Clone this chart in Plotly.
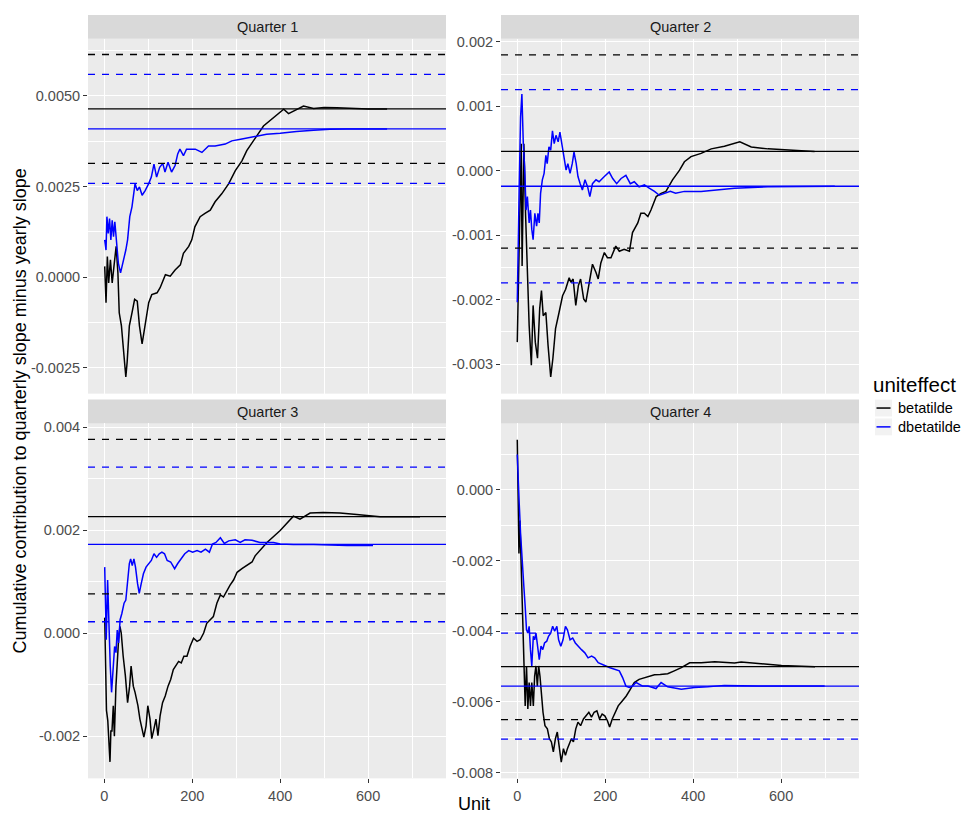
import plotly.graph_objects as go

W, H = 970, 822

# ---------------- data: cumulative unit effects per quarter ----------------
q1_beta_x = [1, 4, 7, 10, 14, 18, 22, 27, 31, 34, 39, 44, 49, 52, 57, 63, 69, 75, 80, 86, 93, 101, 108, 120,
             127, 139, 150, 161, 173, 180, 192, 199, 206, 218, 229, 241, 252, 267, 283, 298, 313, 324, 362,
             389, 408, 419, 430, 453, 476, 500, 529, 567, 600, 643]
q1_beta_y = [0.00030, -0.00070, 0.00057, -0.00016, 0.00048, -0.00016, 0.00030, 0.00085, 0.00012, -0.00098,
             -0.00134, -0.00198, -0.00275, -0.00234, -0.00134, -0.00098, -0.00061, -0.00066, -0.00134,
             -0.00184, -0.00125, -0.00070, -0.00048, -0.00043, -0.00029, 0.00007, 0.00003, 0.00020, 0.00034,
             0.00066, 0.00085, 0.00103, 0.00139, 0.00167, 0.00176, 0.00185, 0.00208, 0.00230, 0.00258,
             0.00294, 0.00321, 0.00349, 0.00417, 0.00444, 0.00463, 0.00451, 0.00458, 0.00472, 0.00465,
             0.00468, 0.00467, 0.00465, 0.00464, 0.00464]
q1_dbeta_x = [1, 4, 6, 9, 12, 15, 18, 21, 24, 28, 32, 37, 42, 46, 49, 53, 58, 63, 67, 70, 75, 80, 86, 93, 101,
              107, 113, 119, 126, 133, 138, 145, 153, 161, 167, 172, 180, 187, 207, 222, 237, 252, 275, 290,
              313, 347, 369, 400, 437, 476, 513, 551, 643]
q1_dbeta_y = [0.00103, 0.00075, 0.00167, 0.00121, 0.00162, 0.00103, 0.00157, 0.00112, 0.00153, 0.00085,
              0.00039, 0.00012, 0.00039, 0.00053, 0.00075, 0.00103, 0.00167, 0.00194, 0.00239, 0.00258,
              0.00239, 0.00249, 0.00226, 0.00239, 0.00258, 0.00276, 0.00312, 0.00276, 0.00303, 0.00314,
              0.00290, 0.00317, 0.00290, 0.00308, 0.00340, 0.00353, 0.00335, 0.00353, 0.00353, 0.00344,
              0.00362, 0.00362, 0.00367, 0.00376, 0.00381, 0.00390, 0.00394, 0.00397, 0.00402, 0.00405,
              0.00408, 0.00409, 0.00409]

q2_beta_x = [0, 4, 6, 9, 11, 15, 19, 23, 27, 32, 36, 41, 46, 51, 55, 59, 65, 70, 76, 81, 87, 95, 103, 110, 118,
             122, 127, 133, 139, 144, 151, 156, 163, 171, 179, 184, 190, 198, 205, 213, 224, 232, 243, 255,
             262, 274, 281, 289, 297, 304, 316, 327, 338, 353, 369, 380, 395, 418, 441, 471, 506, 532, 570,
             608, 646, 676]
q2_beta_y = [-0.00266, -0.00122, -0.00020, 0.00042, -0.00148, 0.00042, -0.00071, -0.00173, -0.00240,
             -0.00302, -0.00209, -0.00266, -0.00291, -0.00214, -0.00186, -0.00225, -0.00220, -0.00271,
             -0.00320, -0.00291, -0.00245, -0.00220, -0.00194, -0.00184, -0.00166, -0.00173, -0.00168,
             -0.00209, -0.00178, -0.00168, -0.00199, -0.00204, -0.00173, -0.00145, -0.00158, -0.00168,
             -0.00143, -0.00127, -0.00135, -0.00135, -0.00117, -0.00125, -0.00122, -0.00125, -0.00096,
             -0.00081, -0.00066, -0.00066, -0.00071, -0.00061, -0.00040, -0.00035, -0.00032, -0.00014,
             0.00001, 0.00014, 0.00022, 0.00027, 0.00034, 0.00038, 0.00045, 0.00037, 0.00034, 0.00032,
             0.00031, 0.00030]
q2_dbeta_x = [0, 1.5, 4.5, 7.5, 10.5, 13.7, 16.7, 20, 23, 27, 30, 33, 36, 40, 44, 47, 50, 53, 57, 61, 65, 68, 72,
              76, 80, 84, 88, 93, 97, 102, 106, 111, 115, 120, 125, 129, 134, 138, 143, 148, 154, 160, 165,
              171, 179, 186, 198, 209, 217, 226, 236, 247, 257, 266, 277, 289, 300, 312, 323, 334, 348, 360,
              380, 418, 456, 494, 570, 646, 722]
q2_dbeta_y = [-0.00204, -0.00122, -0.00020, 0.00083, 0.00119, 0.00042, 0.00006, -0.00061, -0.00040,
              -0.00081, -0.00061, -0.00091, -0.00107, -0.00066, -0.00086, -0.00066, -0.00081, -0.00035,
              -0.00014, -0.00004, 0.00024, 0.00011, 0.00037, 0.00032, 0.00062, 0.00042, 0.00055, 0.00045,
              0.00060, 0.00039, 0.00022, 0.00001, 0.00011, -0.00004, 0.00011, 0.00029, 0.00011, -0.00009,
              -0.00020, -0.00030, -0.00014, -0.00025, -0.00040, -0.00020, -0.00014, -0.00017, -0.00009,
              -0.00002, -0.00012, -0.00020, -0.00012, -0.00007, -0.00020, -0.00017, -0.00025, -0.00022,
              -0.00027, -0.00032, -0.00038, -0.00035, -0.00032, -0.00035, -0.00032, -0.00032, -0.00030,
              -0.00027, -0.00025, -0.00024, -0.00024]

q3_beta_x = [1, 2, 5, 8, 11, 13, 15, 17.5, 20.5, 23, 26.5, 29.5, 32.5, 35.6, 38.6, 43, 48, 53, 57.6, 61, 66, 70,
             76.5, 81, 86, 90, 95, 99, 104, 108, 113, 117.5, 122, 127, 132.5, 138.6, 145, 151, 157, 163, 169,
             175, 181, 188, 195, 203, 211, 218, 226, 233, 241, 248, 256, 264, 271, 279, 286, 294, 302, 313,
             324, 336, 343, 370, 400, 430, 445, 468, 498, 536, 574, 627, 718]
q3_beta_y = [0.00030, -0.00010, -0.00150, -0.00170, -0.00210, -0.00250, -0.00190, -0.00190, -0.00141,
             -0.00200, -0.00103, -0.00051, -0.00013, 0.00013, 0.00000, -0.00045, -0.00083, -0.00135,
             -0.00103, -0.00064, -0.00103, -0.00115, -0.00141, -0.00167, -0.00186, -0.00202, -0.00180,
             -0.00141, -0.00167, -0.00205, -0.00186, -0.00167, -0.00199, -0.00160, -0.00135, -0.00122,
             -0.00103, -0.00090, -0.00071, -0.00064, -0.00055, -0.00058, -0.00045, -0.00045, -0.00026,
             -0.00010, -0.00016, -0.00013, 0.00000, 0.00019, 0.00026, 0.00032, 0.00058, 0.00074, 0.00070,
             0.00083, 0.00093, 0.00103, 0.00118, 0.00125, 0.00131, 0.00138, 0.00150, 0.00176, 0.00199,
             0.00227, 0.00221, 0.00233, 0.00234, 0.00233, 0.00230, 0.00226, 0.00226]
q3_dbeta_x = [1, 4.5, 7.6, 10.6, 13.6, 16.6, 20.5, 23.5, 26.6, 29.5, 32.6, 36, 40, 45, 49, 53, 57, 60, 63.6,
              67.4, 71, 75.7, 79.5, 84, 89, 95, 101, 107, 113, 119, 125, 131, 137, 143, 151, 160, 167, 175,
              183, 192, 201, 211, 220, 230, 239, 246, 254, 264, 273, 283, 298, 309, 320, 336, 354, 385, 400,
              430, 476, 552, 611]
q3_dbeta_y = [0.00128, -0.00013, 0.00103, 0.00013, -0.00064, -0.00115, -0.00064, -0.00026, -0.00038,
              0.00006, -0.00019, 0.00026, 0.00038, 0.00058, 0.00064, 0.00096, 0.00135, 0.00144, 0.00131,
              0.00144, 0.00128, 0.00096, 0.00077, 0.00096, 0.00115, 0.00128, 0.00135, 0.00141, 0.00154,
              0.00147, 0.00154, 0.00157, 0.00154, 0.00141, 0.00138, 0.00125, 0.00135, 0.00144, 0.00154,
              0.00160, 0.00157, 0.00160, 0.00157, 0.00163, 0.00157, 0.00173, 0.00176, 0.00185, 0.00174,
              0.00179, 0.00181, 0.00176, 0.00181, 0.00180, 0.00176, 0.00176, 0.00173, 0.00172, 0.00172,
              0.00170, 0.00170]

q4_beta_x = [0, 1.5, 3.8, 6, 9, 12, 15, 18, 21, 24, 27, 30, 33, 36.5, 39.5, 42.5, 45.6, 48.6, 51.6, 54.8, 58.5,
             63, 68.4, 73, 77.6, 82, 86.7, 91, 95.8, 100, 105, 109.5, 114, 118.6, 123, 127.7, 133, 138, 144,
             150.5, 156.5, 162.7, 168.8, 174.8, 181, 187, 193, 199, 205, 210, 216, 222, 229.5, 238.7, 247.8,
             257, 266, 277, 289, 300, 312, 325, 342, 357, 373, 392, 418, 449, 494, 509, 555, 601, 677]
q4_beta_y = [0.00142, 0.00006, -0.00180, -0.00087, -0.00227, -0.00349, -0.00461, -0.00611, -0.00498,
             -0.00620, -0.00545, -0.00611, -0.00545, -0.00611, -0.00527, -0.00498, -0.00555, -0.00498,
             -0.00527, -0.00573, -0.00629, -0.00667, -0.00676, -0.00704, -0.00713, -0.00741, -0.00704,
             -0.00685, -0.00741, -0.00770, -0.00732, -0.00751, -0.00732, -0.00718, -0.00704, -0.00713,
             -0.00676, -0.00657, -0.00667, -0.00648, -0.00639, -0.00629, -0.00643, -0.00629, -0.00625,
             -0.00648, -0.00634, -0.00639, -0.00653, -0.00671, -0.00648, -0.00629, -0.00611, -0.00597,
             -0.00583, -0.00564, -0.00545, -0.00536, -0.00531, -0.00527, -0.00523, -0.00522, -0.00520,
             -0.00512, -0.00503, -0.00489, -0.00489, -0.00486, -0.00490, -0.00487, -0.00492, -0.00497,
             -0.00500]
q4_dbeta_x = [0, 2, 4.5, 7.5, 11, 15, 18, 21, 24, 27, 30, 33, 36.5, 39.5, 42.5, 46, 50, 54, 58, 62, 67, 71, 76,
              80.5, 85, 90, 94, 99, 104, 109.5, 114, 120, 126, 132, 138, 146, 153.6, 161, 169, 176, 184, 192,
              201.5, 211, 222, 232, 239.5, 247, 254.7, 262, 270, 277, 285, 297, 308, 315.5, 327, 342, 373,
              403, 433, 471, 548, 699]
q4_dbeta_y = [0.00100, 0.00006, -0.00040, -0.00124, -0.00208, -0.00274, -0.00330, -0.00396, -0.00405,
              -0.00386, -0.00452, -0.00498, -0.00414, -0.00424, -0.00405, -0.00442, -0.00480, -0.00442,
              -0.00452, -0.00433, -0.00428, -0.00414, -0.00405, -0.00386, -0.00400, -0.00386, -0.00424,
              -0.00442, -0.00424, -0.00386, -0.00396, -0.00424, -0.00419, -0.00433, -0.00442, -0.00452,
              -0.00461, -0.00475, -0.00470, -0.00475, -0.00489, -0.00494, -0.00498, -0.00503, -0.00508,
              -0.00512, -0.00531, -0.00555, -0.00559, -0.00555, -0.00545, -0.00550, -0.00555, -0.00555,
              -0.00559, -0.00562, -0.00545, -0.00557, -0.00564, -0.00559, -0.00557, -0.00553, -0.00555,
              -0.00555]

# final estimates (solid) with +/- band (dashed)
final_beta = [0.00464, 0.00030, 0.00226, -0.00500]
final_dbeta = [0.00409, -0.00024, 0.00172, -0.00555]
band = 0.0015

panel_titles = ["Quarter 1", "Quarter 2", "Quarter 3", "Quarter 4"]
series_names = ["betatilde", "dbetatilde"]
series_colors = ["#000000", "#0000FF"]

x_ticks = [0, 200, 400, 600]
y_ticks = [
    [-0.0025, 0.0, 0.0025, 0.0050],
    [-0.003, -0.002, -0.001, 0.0, 0.001, 0.002],
    [-0.002, 0.0, 0.002, 0.004],
    [-0.008, -0.006, -0.004, -0.002, 0.0],
]
y_labels = [
    ["-0.0025", "0.0000", "0.0025", "0.0050"],
    ["-0.003", "-0.002", "-0.001", "0.000", "0.001", "0.002"],
    ["-0.002", "0.000", "0.002", "0.004"],
    ["-0.008", "-0.006", "-0.004", "-0.002", "0.000"],
]
y_ranges = [[-0.00321, 0.006576], [-0.00346, 0.00205], [-0.00282, 0.00407], [-0.00816, 0.00188]]
x_range = [-37, 777]

series = [
    (q1_beta_x, q1_beta_y, q1_dbeta_x, q1_dbeta_y),
    (q2_beta_x, q2_beta_y, q2_dbeta_x, q2_dbeta_y),
    (q3_beta_x, q3_beta_y, q3_dbeta_x, q3_dbeta_y),
    (q4_beta_x, q4_beta_y, q4_dbeta_x, q4_dbeta_y),
]

# ---------------- layout geometry (pixels) ----------------
FONT = "Liberation Sans, Arial, sans-serif"
panel_px = [  # x0, x1, y0 (top), y1 (bottom)
    (88, 446, 34, 392),
    (501, 859, 34, 392),
    (88, 446, 422, 780),
    (501, 859, 422, 780),
]
STRIP_H = 24
TICK_SIZE = 14.5


def px(xp):
    return xp / W


def py(yp):
    return 1 - yp / H


fig = go.Figure()
layout = dict(
    width=W, height=H,
    margin=dict(l=0, r=0, t=0, b=0),
    paper_bgcolor="white",
    plot_bgcolor="#EBEBEB",
    showlegend=False,
    font=dict(family=FONT, color="#4D4D4D", size=TICK_SIZE),
)
shapes = []
annotations = []

for i in range(4):
    sfx = "" if i == 0 else str(i + 1)
    xa, ya = "x" + sfx, "y" + sfx
    bx, by, dbx, dby = series[i]
    for (xs, ys), name, col in zip([(bx, by), (dbx, dby)], series_names, series_colors):
        fig.add_trace(go.Scatter(x=xs, y=ys, mode="lines", name=name,
                                 line=dict(color=col, width=1.5),
                                 xaxis=xa, yaxis=ya, hoverinfo="skip"))

    x0, x1, y0, y1 = panel_px[i]
    bottom_row = i >= 2
    layout["xaxis" + sfx] = dict(
        domain=[px(x0), px(x1)], anchor=ya, range=x_range,
        tickmode="array", tickvals=x_ticks, ticktext=[str(v) for v in x_ticks],
        showticklabels=bottom_row, ticks="outside" if bottom_row else "",
        ticklen=4, tickwidth=1, tickcolor="#333333",
        tickfont=dict(size=TICK_SIZE, color="#4D4D4D", family=FONT),
        showgrid=True, gridcolor="white", gridwidth=1.4, zeroline=False, showline=False,
        minor=dict(tick0=0, dtick=100, showgrid=True, gridcolor="white", gridwidth=0.7, ticks=""),
    )
    yt = y_ticks[i]
    step = yt[1] - yt[0]
    layout["yaxis" + sfx] = dict(
        domain=[py(y1), py(y0)], anchor=xa, range=y_ranges[i],
        tickmode="array", tickvals=yt, ticktext=y_labels[i],
        ticks="outside", ticklen=4, tickwidth=1, tickcolor="#333333",
        tickfont=dict(size=TICK_SIZE, color="#4D4D4D", family=FONT),
        showgrid=True, gridcolor="white", gridwidth=1.4, zeroline=False, showline=False,
        minor=dict(tick0=yt[0] + step / 2, dtick=step, showgrid=True, gridcolor="white",
                   gridwidth=0.7, ticks=""),
    )

    # estimate lines and dashed bands
    for est, col in zip([final_beta[i], final_dbeta[i]], series_colors):
        for val, dash in [(est, "solid"), (est + band, "7px,7px"), (est - band, "7px,7px")]:
            shapes.append(dict(type="line", xref=xa + " domain", yref=ya,
                               x0=0, x1=1, y0=val, y1=val,
                               line=dict(color=col, width=1.3, dash=dash)))

    # facet strip
    shapes.append(dict(type="rect", xref="paper", yref="paper",
                       x0=px(x0), x1=px(x1), y0=py(y0), y1=py(y0 - STRIP_H),
                       fillcolor="#D9D9D9", line=dict(width=0), layer="below"))
    annotations.append(dict(text=panel_titles[i], xref="paper", yref="paper",
                            x=px((x0 + x1) / 2), y=py(y0 - STRIP_H / 2),
                            xanchor="center", yanchor="middle", showarrow=False,
                            font=dict(size=TICK_SIZE, color="#1A1A1A", family=FONT)))

# axis titles
annotations.append(dict(text="Unit", xref="paper", yref="paper", x=px(473.5), y=py(806),
                        xanchor="center", yanchor="middle", showarrow=False,
                        font=dict(size=18, color="#000000", family=FONT)))
annotations.append(dict(text="Cumulative contribution to quarterly slope minus yearly slope",
                        xref="paper", yref="paper", x=px(20), y=py(410), textangle=-90,
                        xanchor="center", yanchor="middle", showarrow=False,
                        font=dict(size=18, color="#000000", family=FONT)))

# legend
annotations.append(dict(text="uniteffect", xref="paper", yref="paper", x=px(871), y=py(383),
                        xanchor="left", yanchor="middle", showarrow=False,
                        font=dict(size=20.5, color="#000000", family=FONT)))
for k, (name, col) in enumerate(zip(series_names, series_colors)):
    ky0 = 398 + k * 19
    shapes.append(dict(type="rect", xref="paper", yref="paper",
                       x0=px(875), x1=px(892), y0=py(ky0 + 17), y1=py(ky0),
                       fillcolor="#F2F2F2", line=dict(width=0)))
    shapes.append(dict(type="line", xref="paper", yref="paper",
                       x0=px(876.5), x1=px(890.5), y0=py(ky0 + 8.5), y1=py(ky0 + 8.5),
                       line=dict(color=col, width=1.5)))
    annotations.append(dict(text=name, xref="paper", yref="paper", x=px(896), y=py(ky0 + 8.5),
                            xanchor="left", yanchor="middle", showarrow=False,
                            font=dict(size=TICK_SIZE, color="#000000", family=FONT)))

layout["shapes"] = shapes
layout["annotations"] = annotations
fig.update_layout(**layout)
fig.write_html("out.html")
